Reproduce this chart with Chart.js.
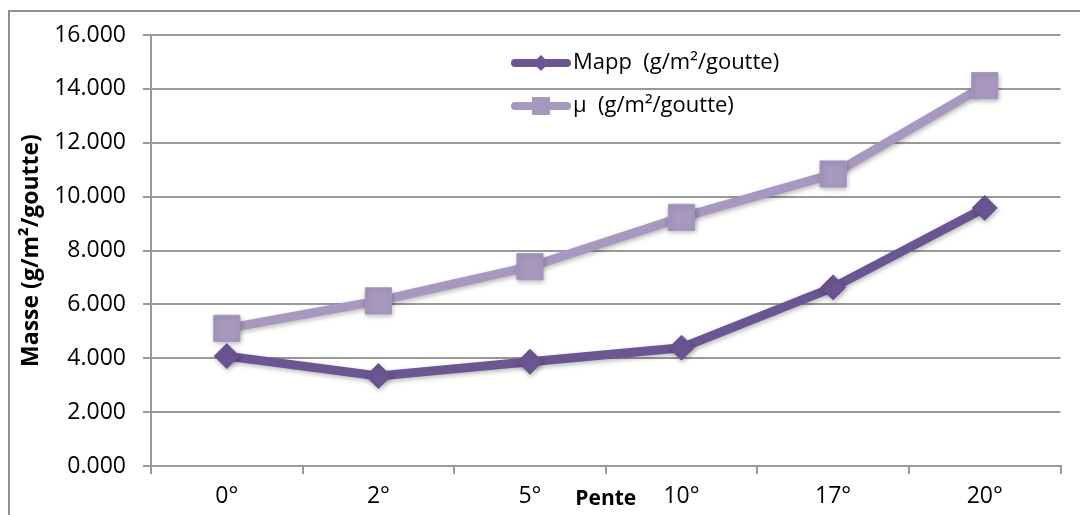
<!DOCTYPE html>
<html>
<head>
<meta charset="utf-8">
<script src="https://cdn.jsdelivr.net/npm/chart.js@4/dist/chart.umd.min.js"></script>
<style>
    html, body { margin: 0; padding: 0; background: #fff; overflow: hidden; }
    .frame { position: absolute; left: 8px; top: 10px; width: 1200px; height: 600px; border: 2px solid #8f8f8f; }
    .chartBox { position: absolute; left: 0; top: 0; width: 1080px; height: 515px; }
</style>
</head>
<body>
<div class="frame"></div>
<div class="chartBox"><canvas id="dataChart" width="1080" height="515"></canvas></div>
<script>
    // chart data
    const categories = ['0°', '2°', '5°', '10°', '17°', '20°'];
    const mappValues = [4.08, 3.34, 3.87, 4.39, 6.63, 9.58];
    const muValues = [5.11, 6.13, 7.40, 9.23, 10.84, 14.12];
    const seriesNames = ['Mapp  (g/m²/goutte)', 'μ  (g/m²/goutte)'];
    const yMin = 0, yMax = 16, yStep = 2;

    const darkPurple = '#6b5592';
    const lightPurple = '#a798bf';
    const gridColor = '#999999';
    const fontFamily = '"Open Sans", Lato, sans-serif';

    Chart.defaults.color = '#000';
    Chart.defaults.font.family = fontFamily;

    // soft shadow under lines and markers
    const shadow = {
        id: 'shadow',
        beforeDatasetsDraw(chart) {
            const c = chart.ctx;
            c.save();
            c.shadowColor = 'rgba(0,0,0,0.28)';
            c.shadowBlur = 5;
            c.shadowOffsetX = 1;
            c.shadowOffsetY = 2;
        },
        afterDatasetsDraw(chart) {
            chart.ctx.restore();
        }
    };

    // legend drawn inside the plot, stacked
    const insideLegend = {
        id: 'insideLegend',
        afterDraw(chart) {
            const {ctx, chartArea} = chart;
            const x0 = chartArea.left + 360;
            chart.data.datasets.forEach((ds, i) => {
                const y = chartArea.top + 28 + i * 43;
                const mx = x0 + 30;
                ctx.save();
                ctx.strokeStyle = ds.borderColor;
                ctx.fillStyle = ds.borderColor;
                ctx.lineWidth = 8;
                ctx.lineCap = 'round';
                ctx.beginPath();
                ctx.moveTo(x0 + 4, y);
                ctx.lineTo(x0 + 56, y);
                ctx.stroke();
                ctx.beginPath();
                if (ds.pointStyle === 'rectRot') {
                    ctx.moveTo(mx - 8, y);
                    ctx.lineTo(mx, y - 8);
                    ctx.lineTo(mx + 8, y);
                    ctx.lineTo(mx, y + 8);
                    ctx.closePath();
                } else {
                    ctx.rect(mx - 9, y - 9, 18, 18);
                }
                ctx.fill();
                ctx.fillStyle = '#000';
                ctx.font = '22px ' + fontFamily;
                ctx.textBaseline = 'middle';
                ctx.fillText(ds.label, x0 + 62, y);
                ctx.restore();
            });
        }
    };

    let ctx = document.getElementById('dataChart').getContext('2d');
    let chartObj = new Chart(ctx, {
        type: 'line',
        data: {
            labels: categories,
            datasets: [{
                label: seriesNames[0],
                data: mappValues,
                borderColor: darkPurple,
                backgroundColor: darkPurple,
                borderWidth: 9,
                pointStyle: 'rectRot',
                pointRadius: 12.5,
                pointBorderWidth: 1,
                fill: false,
                tension: 0,
            }, {
                label: seriesNames[1],
                data: muValues,
                borderColor: lightPurple,
                backgroundColor: lightPurple,
                borderWidth: 9,
                pointStyle: 'rect',
                pointRadius: 18.5,
                pointBorderWidth: 1,
                fill: false,
                tension: 0,
            }]
        },
        options: {
            responsive: false,
            animation: false,
            layout: { padding: { top: 35, right: 15, left: 0, bottom: 0 } },
            plugins: {
                legend: { display: false },
                tooltip: { enabled: false },
            },
            scales: {
                x: {
                    offset: true,
                    grid: { drawOnChartArea: false, drawTicks: true, tickLength: 8, offset: true, color: gridColor, lineWidth: 2 },
                    border: { display: true, color: gridColor, width: 2 },
                    ticks: { font: { size: 23 }, padding: 9, maxRotation: 0 },
                    title: { display: true, text: 'Pente', font: { size: 21, weight: 'bold' }, padding: { top: 0, bottom: 3 } },
                    afterFit: s => { s.height = 49; },
                },
                y: {
                    min: yMin,
                    max: yMax,
                    ticks: {
                        stepSize: yStep,
                        font: { size: 23 },
                        padding: 17,
                        callback: v => v.toFixed(3),
                    },
                    grid: { color: gridColor, lineWidth: 2, tickLength: 8 },
                    border: { display: true, color: gridColor, width: 2 },
                    title: { display: true, text: 'Masse (g/m²/goutte)', font: { size: 23, weight: 'bold' }, padding: { top: 18, bottom: 0 } },
                    afterFit: s => { s.width = 151; },
                }
            }
        },
        plugins: [shadow, insideLegend]
    });
</script>
</body>
</html>
